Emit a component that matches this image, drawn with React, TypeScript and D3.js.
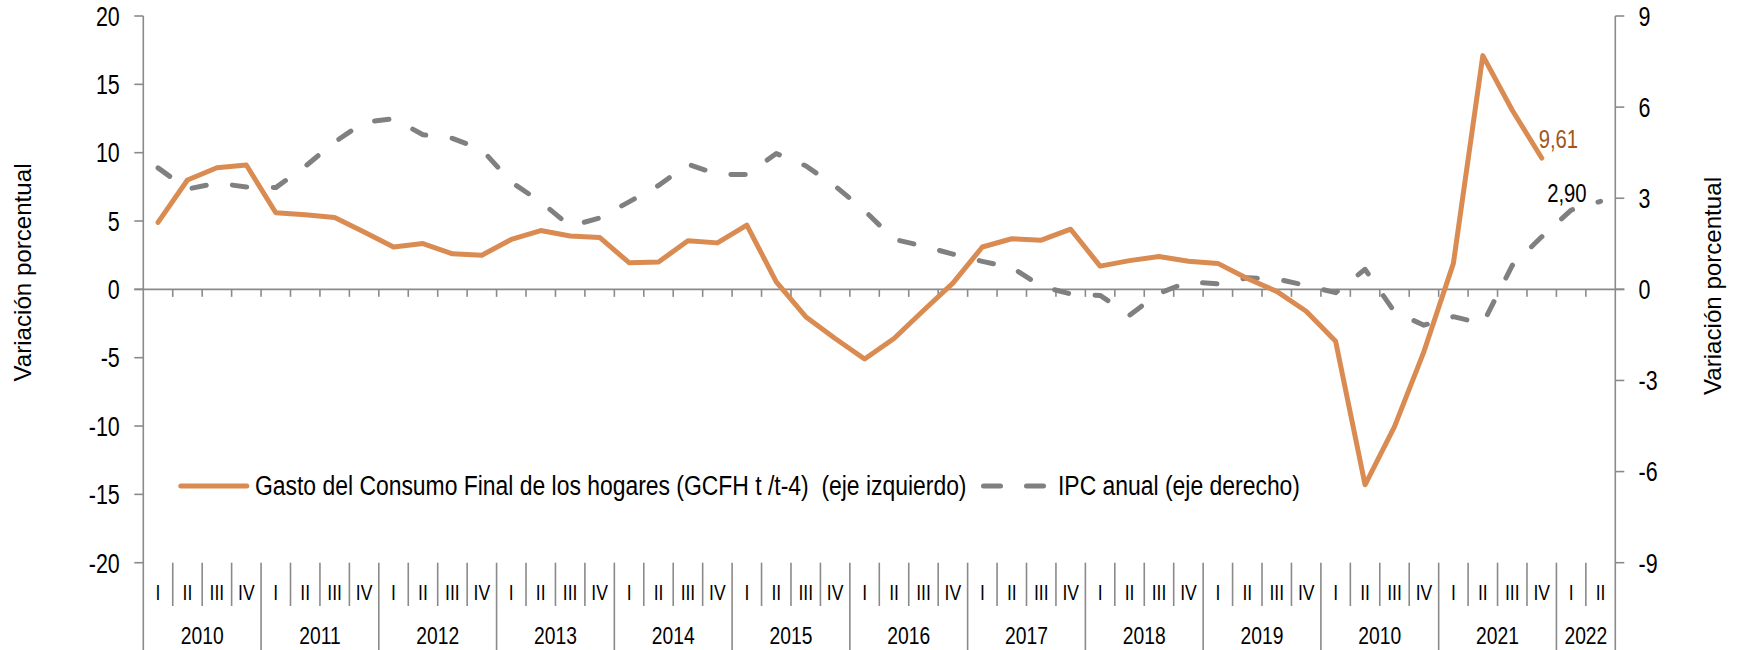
import React from 'react';
import * as d3 from 'd3';

const yearLabels = ['2010', '2011', '2012', '2013', '2014', '2015', '2016', '2017', '2018', '2019', '2010', '2021', '2022'];
const quartersPerYear = [4, 4, 4, 4, 4, 4, 4, 4, 4, 4, 4, 4, 2];
const quarterNames = ['I', 'II', 'III', 'IV'];

// Gasto del Consumo Final de los hogares (eje izquierdo), 2010 I .. 2021 IV
const gcfh = [
  4.9, 8.0, 8.9, 9.1,
  5.6, 5.45, 5.25, 4.2,
  3.1, 3.35, 2.6, 2.5,
  3.65, 4.3, 3.9, 3.8,
  1.95, 2.0, 3.55, 3.4,
  4.7, 0.55, -2.0, -3.6,
  -5.1, -3.6, -1.55, 0.45,
  3.1, 3.7, 3.6, 4.4,
  1.7, 2.1, 2.4, 2.05,
  1.9, 0.8, -0.15, -1.6,
  -3.8, -14.3, -10.05, -4.55,
  1.9, 17.1, 13.1, 9.61,
];

// IPC anual (eje derecho), 2010 I .. 2022 II
const ipc = [
  4.0, 3.3, 3.5, 3.37,
  3.35, 4.05, 4.85, 5.5,
  5.62, 5.09, 4.97, 4.6,
  3.53, 2.88, 2.08, 2.35,
  2.88, 3.42, 4.12, 3.79,
  3.78, 4.47, 4.07, 3.4,
  2.59, 1.65, 1.42, 1.16,
  0.92, 0.72, 0.1, -0.15,
  -0.2, -0.85, -0.13, 0.25,
  0.18, 0.38, 0.34, 0.13,
  -0.11, 0.66, -0.74, -1.18,
  -0.9, -1.13, 0.79, 1.73,
  2.61, 2.9,
];

const leftTicks = [20, 15, 10, 5, 0, -5, -10, -15, -20];
const rightTicks = [9, 6, 3, 0, -3, -6, -9];

const legendGcfh = 'Gasto del Consumo Final de los hogares (GCFH t /t-4)  (eje izquierdo)';
const legendIpc = 'IPC anual (eje derecho)';
const axisTitle = 'Variación porcentual';
const lastGcfhLabel = '9,61';
const lastIpcLabel = '2,90';

const W = 1744;
const H = 650;
const X0 = 143.3;
const X1 = 1615.3;
const YT = 16;
const YB = 562.7;
const SX = 0.78;
const FONT = '"Liberation Sans", Arial, Helvetica, sans-serif';
const AXIS = '#8a8a8a';
const ORANGE = '#d98b51';
const GRAY = '#808080';
const LABEL_BROWN = '#a3561c';

type Cat = { year: number; q: number; idx: number };
const cats: Cat[] = [];
yearLabels.forEach((_, yi) => {
  for (let q = 0; q < quartersPerYear[yi]; q++) cats.push({ year: yi, q, idx: cats.length });
});

function T(props: {
  x: number; y: number; anchor?: string; size: number; fill?: string; len?: number; children: React.ReactNode;
}) {
  const { x, y, anchor = 'start', size, fill = '#000', len, children } = props;
  return (
    <text
      transform={`translate(${x},${y}) scale(${SX},1)`}
      textAnchor={anchor}
      fontSize={size}
      fill={fill}
      fontFamily={FONT}
      style={{ whiteSpace: 'pre' }}
      textLength={len ? len / SX : undefined}
      lengthAdjust={len ? 'spacingAndGlyphs' : undefined}
    >
      {children}
    </text>
  );
}

export default function App() {
  const x = d3.scaleBand<number>().domain(cats.map((c) => c.idx)).range([X0, X1]).padding(0);
  const bw = x.bandwidth();
  const cx = (i: number) => (x(i) as number) + bw / 2;
  const yL = d3.scaleLinear().domain([-20, 20]).range([YB, YT]);
  const yR = d3.scaleLinear().domain([-9, 9]).range([YB, YT]);

  const lineL = d3.line<number>().x((_, i) => cx(i)).y((d) => yL(d));
  const lineR = d3.line<number>().x((_, i) => cx(i)).y((d) => yR(d));

  const y0 = yL(0);

  const yearStarts: number[] = [];
  let acc = 0;
  quartersPerYear.forEach((n) => { yearStarts.push(acc); acc += n; });

  const legendY = 486;

  return (
    <svg width={W} height={H} style={{ position: 'absolute', left: 0, top: 0, background: '#fff' }}>
      <rect x={0} y={0} width={W} height={H} fill="#fff" />

      {/* left axis */}
      <line x1={X0} x2={X0} y1={YT} y2={H} stroke={AXIS} strokeWidth={1.6} />
      {leftTicks.map((t) => (
        <g key={'lt' + t}>
          <line x1={X0 - 9} x2={X0} y1={yL(t)} y2={yL(t)} stroke={AXIS} strokeWidth={1.6} />
          <T x={119.8} y={yL(t) + 9.8} anchor="end" size={27.5}>{String(t)}</T>
        </g>
      ))}

      {/* right axis */}
      <line x1={X1} x2={X1} y1={YT} y2={H} stroke={AXIS} strokeWidth={1.6} />
      {rightTicks.map((t) => (
        <g key={'rt' + t}>
          <line x1={X1} x2={X1 + 9} y1={yR(t)} y2={yR(t)} stroke={AXIS} strokeWidth={1.6} />
          <T x={1638.6} y={yR(t) + 9.8} anchor="start" size={27.5}>{String(t)}</T>
        </g>
      ))}

      {/* zero line with category ticks */}
      <line x1={X0 - 9} x2={X1 + 9} y1={y0} y2={y0} stroke={AXIS} strokeWidth={1.8} />
      {cats.slice(1).map((c) => (
        <line key={'zt' + c.idx} x1={x(c.idx) as number} x2={x(c.idx) as number} y1={y0} y2={y0 + 7.5} stroke={AXIS} strokeWidth={1.6} />
      ))}

      {/* category axis at bottom */}
      {cats.slice(1).map((c) => {
        const xx = x(c.idx) as number;
        const isYear = c.q === 0;
        return (
          <line key={'cs' + c.idx} x1={xx} x2={xx} y1={YB} y2={isYear ? H : 606} stroke={AXIS} strokeWidth={1.6} />
        );
      })}
      {cats.map((c) => (
        <T key={'ql' + c.idx} x={cx(c.idx)} y={599.5} anchor="middle" size={22.5}>{quarterNames[c.q]}</T>
      ))}
      {yearLabels.map((yl, yi) => {
        const s = x(yearStarts[yi]) as number;
        const e = s + bw * quartersPerYear[yi];
        return <T key={'yl' + yi} x={(s + e) / 2} y={644} anchor="middle" size={24.7}>{yl}</T>;
      })}

      {/* axis titles */}
      <text
        transform={`translate(31,272.5) rotate(-90)`}
        textAnchor="middle"
        fontSize={24}
        fontFamily={FONT}
        textLength={218}
        lengthAdjust="spacingAndGlyphs"
      >
        {axisTitle}
      </text>
      <text
        transform={`translate(1721,286) rotate(-90)`}
        textAnchor="middle"
        fontSize={24}
        fontFamily={FONT}
        textLength={218}
        lengthAdjust="spacingAndGlyphs"
      >
        {axisTitle}
      </text>

      {/* series */}
      <path d={lineR(ipc) || ''} fill="none" stroke={GRAY} strokeWidth={5} strokeDasharray="14.5 26.5" strokeLinecap="round" strokeLinejoin="round" />
      <path d={lineL(gcfh) || ''} fill="none" stroke={ORANGE} strokeWidth={5} strokeLinejoin="round" strokeLinecap="round" />

      {/* data labels */}
      <T x={cx(gcfh.length - 1) - 3} y={yL(gcfh[gcfh.length - 1]) - 10} size={26} fill={LABEL_BROWN}>{lastGcfhLabel}</T>
      <T x={cx(ipc.length - 1) - 53.4} y={yR(ipc[ipc.length - 1]) + 0.5} size={26}>{lastIpcLabel}</T>

      {/* legend */}
      <line x1={180.8} x2={246.8} y1={legendY} y2={legendY} stroke={ORANGE} strokeWidth={5} strokeLinecap="round" />
      <T x={255} y={495} size={28} len={711.5}>{legendGcfh}</T>
      <line x1={983.5} x2={1043.5} y1={legendY} y2={legendY} stroke={GRAY} strokeWidth={5} strokeLinecap="round" strokeDasharray="17 26" />
      <T x={1058} y={495} size={28} len={242}>{legendIpc}</T>
    </svg>
  );
}
